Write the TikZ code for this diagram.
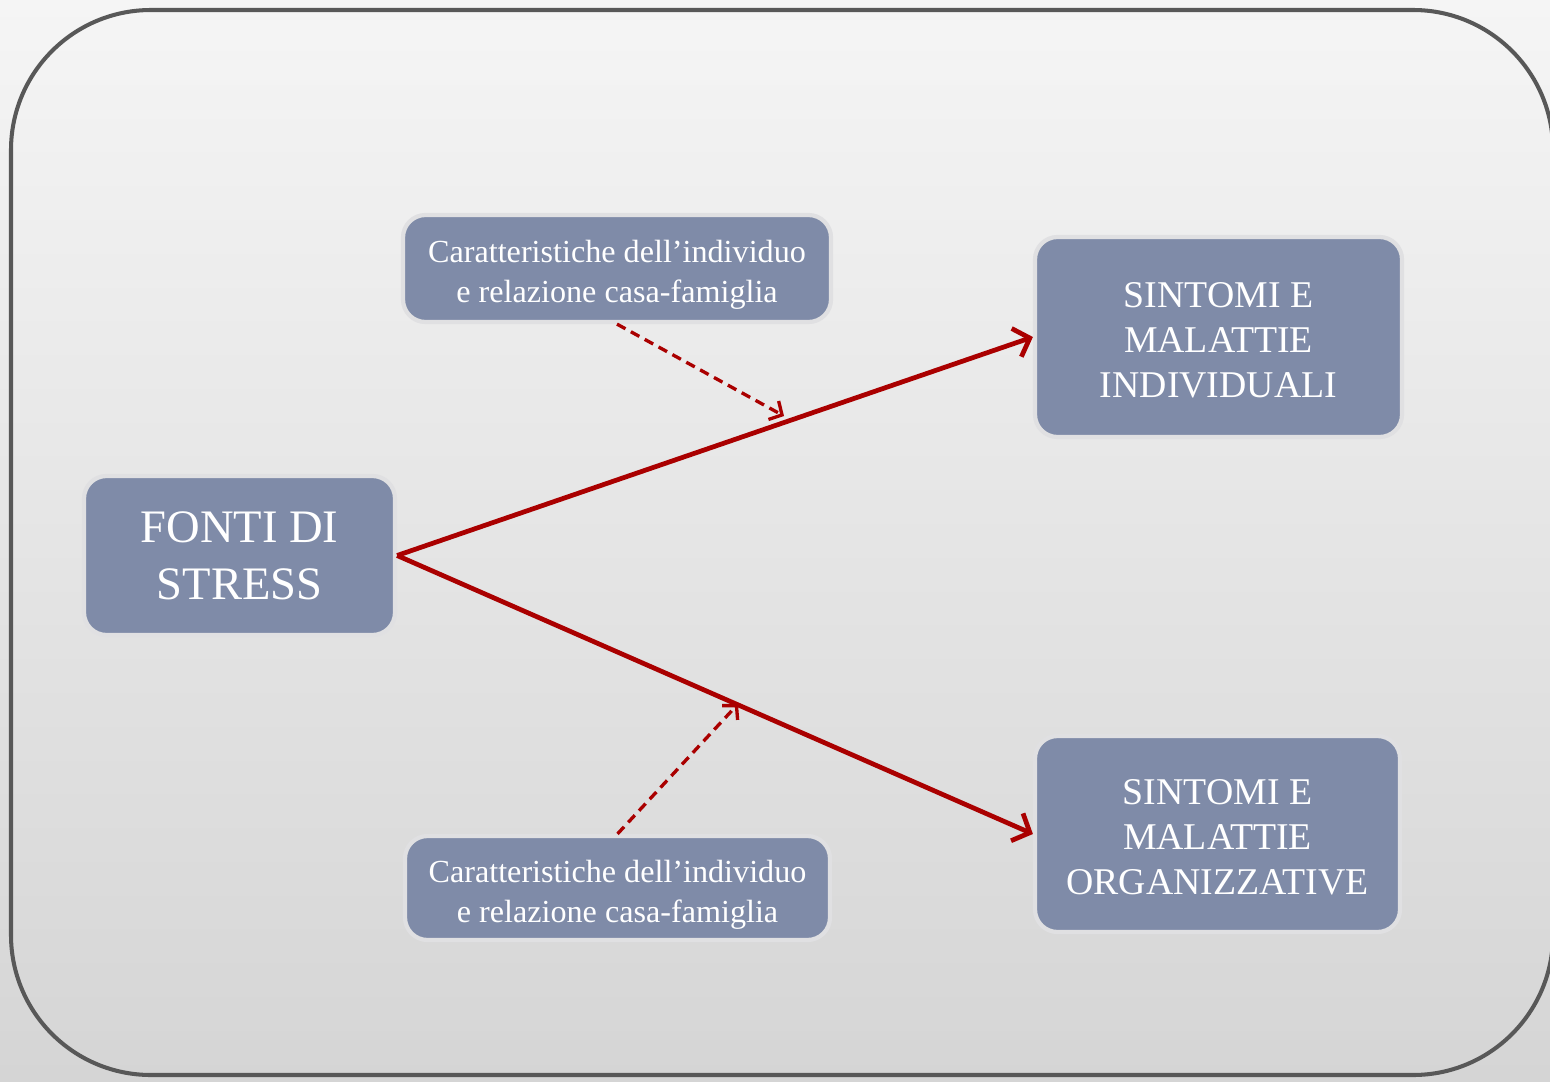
\documentclass[tikz,border=0pt]{standalone}
\usepackage{fontspec}
\setmainfont{Liberation Serif}
\usetikzlibrary{arrows.meta}
\definecolor{boxfill}{HTML}{7F8BA8}
\definecolor{boxline}{HTML}{E0E0E2}
\definecolor{arrred}{HTML}{AA0000}
\definecolor{framec}{HTML}{585858}
\definecolor{bgtop}{HTML}{F5F5F5}
\definecolor{bgbot}{HTML}{D5D5D5}
\begin{document}
\begin{tikzpicture}[x=0.02cm,y=-0.02cm,
  box/.style={draw=boxline, line width=2.4pt, fill=boxfill, rounded corners=0.45cm,
    text=white, align=center, inner sep=0pt},
  mainarr/.style={draw=arrred, line width=2.7pt, -{Straight Barb[length=8pt,width=17pt,line width=2.7pt]}},
  dasharr/.style={draw=arrred, line width=1.9pt, dash pattern=on 5.5pt off 3.5pt,
    -{Straight Barb[length=5.5pt,width=12pt,line width=1.9pt]}}]
\useasboundingbox (0,0) rectangle (1550,1081);
\shade[top color=bgtop, bottom color=bgbot] (0,0) rectangle (1550,1081);
\draw[framec, line width=2.3pt, rounded corners=2.8cm] (11,10) rectangle (1553,1075);
\node[box, minimum width=311*0.02cm, minimum height=159*0.02cm,
  font=\fontsize{26.5}{32.5}\selectfont] (fonti) at (239.5,555.5) {FONTI DI\\STRESS};
\node[box, minimum width=428*0.02cm, minimum height=107*0.02cm, font=\fontsize{18.3}{22.8}\selectfont]
  (car1) at (617,268.5) {\rule{0pt}{0.7cm}Caratteristiche dell’individuo\\e relazione casa-famiglia};
\node[box, minimum width=425*0.02cm, minimum height=104*0.02cm, font=\fontsize{18.3}{22.8}\selectfont]
  (car2) at (617.5,888) {\rule{0pt}{0.7cm}Caratteristiche dell’individuo\\e relazione casa-famiglia};
\node[box, minimum width=367*0.02cm, minimum height=200*0.02cm, font=\fontsize{21.5}{25.5}\selectfont]
  (sin1) at (1218.5,337) {\rule{0pt}{0.64cm}SINTOMI E\\MALATTIE\\INDIVIDUALI};
\node[box, minimum width=365*0.02cm, minimum height=196*0.02cm, font=\fontsize{21.5}{25.5}\selectfont]
  (sin2) at (1217.5,834) {\rule{0pt}{0.64cm}SINTOMI E\\MALATTIE\\ORGANIZZATIVE};
\coordinate (t1) at (784,416);
\coordinate (t2) at (738,704);
\draw[mainarr] (fonti.east) -- (sin1.west);
\draw[mainarr] (fonti.east) -- (sin2.west);
\draw[dasharr] (car1.south) -- (t1);
\draw[dasharr] (car2.north) -- (t2);
\end{tikzpicture}
\end{document}
